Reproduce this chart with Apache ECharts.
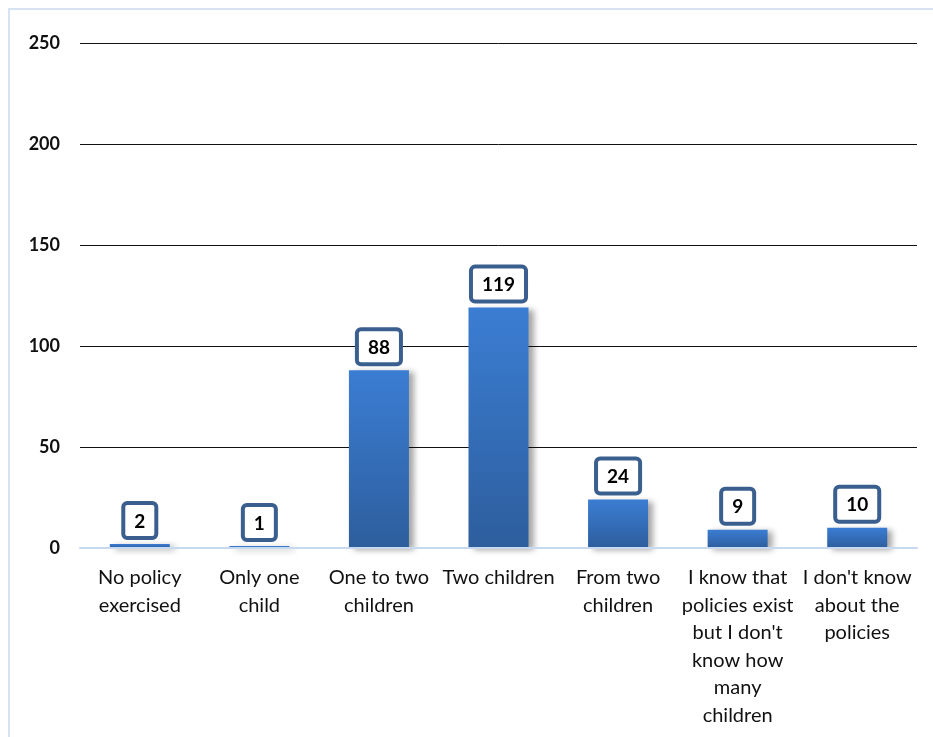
<!DOCTYPE html>
<html>
<head>
<meta charset="utf-8">
<script src="https://cdn.jsdelivr.net/npm/echarts@6/dist/echarts.min.js"></script>
<style>
html,body{margin:0;padding:0;background:#fff;}
#chart{width:933px;height:737px;}
</style>
</head>
<body>
<div id="chart"></div>
<script>
const categories = [
  "No policy\nexercised",
  "Only one\nchild",
  "One to two\nchildren",
  "Two children",
  "From two\nchildren",
  "I know that\npolicies exist\nbut I don't\nknow how\nmany\nchildren",
  "I don't know\nabout the\npolicies"
];
const values = [2, 1, 88, 119, 24, 9, 10];
const yMin = 0, yMax = 250, yInterval = 50;

const chart = echarts.init(document.getElementById('chart'), null, {renderer: 'canvas'});
const font = 'Lato, "Open Sans", sans-serif';
chart.setOption({
  animation: false,
  backgroundColor: '#fff',
  graphic: [{
    type: 'rect',
    shape: {x: 9, y: 9, width: 940, height: 760},
    style: {fill: 'none', stroke: '#d6e3f3', lineWidth: 2},
    silent: true
  }],
  grid: {left: 80, right: 16, top: 43, bottom: 189, containLabel: false},
  xAxis: {
    type: 'category',
    data: categories,
    z: 3,
    axisLine: {show: true, lineStyle: {color: '#c6d9f0', width: 2}},
    axisTick: {show: false},
    axisLabel: {
      interval: 0, color: '#111', fontFamily: font, fontSize: 20,
      lineHeight: 27.5, margin: 16, align: 'center'
    }
  },
  yAxis: {
    type: 'value',
    min: yMin, max: yMax, interval: yInterval,
    axisLine: {show: false},
    axisTick: {show: false},
    axisLabel: {color: '#111', fontFamily: font, fontSize: 18, fontWeight: 'bold', margin: 20},
    splitLine: {lineStyle: {color: '#111', width: 1}}
  },
  series: [{
    type: 'bar',
    data: values,
    barWidth: 60,
    itemStyle: {
      color: new echarts.graphic.LinearGradient(0, 0, 0, 1, [
        {offset: 0, color: '#3b7dd3'},
        {offset: 1, color: '#2d5e9d'}
      ]),
      shadowColor: 'rgba(0,0,0,0.35)',
      shadowBlur: 6,
      shadowOffsetX: 5,
      shadowOffsetY: 2
    },
    label: {
      show: true,
      position: 'top',
      distance: 8,
      color: '#000',
      fontFamily: font,
      fontSize: 19,
      fontWeight: 'bold',
      backgroundColor: '#fff',
      borderColor: '#3a5f8e',
      borderWidth: 4,
      borderRadius: 2,
      padding: [7, 9, 5, 9]
    }
  }]
});
</script>
</body>
</html>
